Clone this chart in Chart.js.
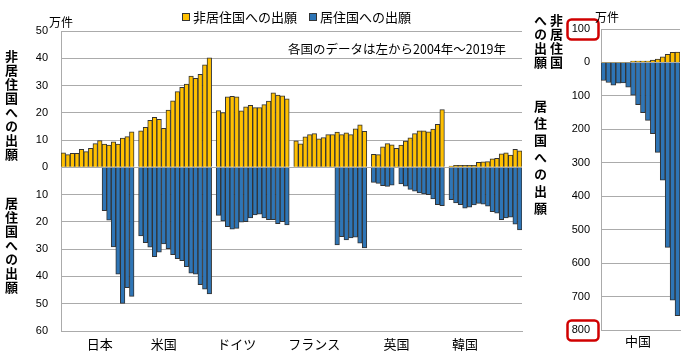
<!DOCTYPE html>
<html lang="ja">
<head>
<meta charset="utf-8">
<script src="https://cdn.jsdelivr.net/npm/chart.js@4.4.1/dist/chart.umd.min.js"></script>
<style>
  html, body { margin:0; padding:0; background:#fff; }
  body { width:700px; height:359px; position:relative; overflow:hidden; font-family:'Noto Sans CJK JP', sans-serif; color:#000; }
  #left { position:absolute; left:0; top:0; }
  #right { position:absolute; left:530px; top:0; }
  .t { position:absolute; white-space:nowrap; font-size:13px; line-height:1; }
  .v { position:absolute; writing-mode:vertical-rl; font-size:13px; font-weight:bold; line-height:1; letter-spacing:1px; }
  .sw { display:inline-block; width:6px; height:6px; border:1px solid #333; margin-right:3px; vertical-align:1px; }
</style>
</head>
<body>
<canvas id="left" width="535" height="359"></canvas>
<canvas id="right" width="170" height="359"></canvas>

<div class="t" style="left:182px; top:10px;"><span class="sw" style="background:#FFC000"></span>非居住国への出願</div>
<div class="t" style="left:309px; top:10px;"><span class="sw" style="background:#2E75B6"></span>居住国への出願</div>
<div class="t" style="left:288px; top:43px; font-size:12.5px;">各国のデータは左から2004年～2019年</div>
<div class="t" style="left:49px; top:16px; font-size:12px;">万件</div>
<div class="t" style="left:595px; top:11px; font-size:12px;">万件</div>
<div class="v" style="left:5px; top:50px;">非居住国への出願</div>
<div class="v" style="left:5px; top:197px;">居住国への出願</div>
<div class="v" style="left:550px; top:14px; letter-spacing:1px;">非居住国</div>
<div class="v" style="left:534px; top:14px; letter-spacing:1px;">への出願</div>
<div class="v" style="left:534px; top:100px; letter-spacing:4px;">居住国への出願</div>

<script>
// ---- data (万件) ----
const years = ['2004','2005','2006','2007','2008','2009','2010','2011','2012','2013','2014','2015','2016','2017','2018','2019'];
const countries = ['日本','米国','ドイツ','フランス','英国','韓国'];

const japanNonRes   = [5.3,4.7,5.1,5.1,6.6,5.8,7.0,8.7,9.8,8.5,8.2,9.4,8.5,10.7,11.3,13.0];
const japanRes      = [null,null,null,null,null,null,null,null,null,15.9,19.4,29.2,39.2,49.9,44.1,47.3];
const usNonRes      = [13.4,14.7,17.2,18.3,17.6,14.3,21.0,24.4,27.8,29.3,30.5,33.5,32.6,34.1,37.6,40.2];
const usRes         = [25.1,27.6,29.3,32.7,31.1,28.1,29.8,32.0,33.5,34.2,36.4,38.8,39.2,43.0,44.7,46.4];
const germanyNonRes = [20.8,20.1,25.9,26.0,25.9,20.7,22.2,22.7,21.9,21.9,23.0,24.3,27.3,26.5,26.2,25.1];
const germanyRes    = [17.6,19.6,21.7,22.7,22.4,20.1,19.9,18.5,17.4,17.2,18.5,19.2,19.2,20.6,19.9,21.1];
const franceNonRes  = [9.7,8.6,11.2,12.0,12.4,10.5,10.9,12.0,12.0,12.9,12.0,12.7,12.0,14.1,15.6,13.2];
const franceRes     = [null,null,null,null,null,null,null,null,null,28.4,25.4,26.6,25.9,25.6,27.8,29.5];
const ukNonRes      = [4.8,4.7,7.5,8.7,8.3,7.0,8.2,9.6,10.8,12.4,13.4,13.4,13.0,14.0,15.8,21.2];
const ukRes         = [5.5,5.9,6.7,7.0,6.5,null,6.1,6.9,8.1,8.7,9.4,9.7,10.0,11.6,13.7,14.0];
const koreaNonRes   = [0.5,0.7,0.7,0.7,0.7,0.7,1.8,2.0,2.1,3.1,3.3,5.0,5.3,4.5,6.6,6.1];
const koreaRes      = [11.8,13.0,13.7,15.0,14.6,13.8,13.2,13.5,14.2,16.2,16.8,19.2,18.5,18.3,20.8,22.9];

const chinaNonRes   = [0.5,0.5,0.5,0.5,0.5,1,4,4,4,4,7,10,17,24,30,31];
const chinaRes      = [54,60,68,62,61,74,98,126,150,173,213,269,352,553,711,757];

const leftTicks  = [50,40,30,20,10,0,-10,-20,-30,-40,-50,-60];
const rightTicks = [100,0,-100,-200,-300,-400,-500,-600,-700,-800];

// ---- styling/layout constants ----
const YELLOW = '#FFC000', BLUE = '#2E75B6', EDGE = '#333333', GRID = '#ababab';
const NUM_FONT = "'Liberation Sans', Arial, sans-serif";
const JP_FONT = "'Noto Sans CJK JP', sans-serif";
const labelSlotInGroup = [8, 5, 4, 4, 5, 3]; // where each country name sits in its group

const nonResByCountry = [japanNonRes, usNonRes, germanyNonRes, franceNonRes, ukNonRes, koreaNonRes];
const resByCountry    = [japanRes, usRes, germanyRes, franceRes, ukRes, koreaRes];

const labels = [], nonResData = [], resData = [], tickText = {};
countries.forEach((c, k) => {
  const start = labels.length;
  tickText[start + labelSlotInGroup[k]] = c;
  years.forEach((y, i) => {
    labels.push(c + ' ' + y);
    nonResData.push(nonResByCountry[k][i]);
    const r = resByCountry[k][i];
    resData.push(r == null ? null : -r);
  });
  if (k < countries.length - 1) { labels.push(''); nonResData.push(null); resData.push(null); }
});

Chart.defaults.animation = false;
Chart.defaults.font.family = NUM_FONT;
Chart.defaults.color = '#000';

const barDs = (label, data, color) => ({
  label, data, backgroundColor: color, borderColor: EDGE, borderWidth: 1,
  barPercentage: 1, categoryPercentage: 1, stack: 's'
});

new Chart(document.getElementById('left'), {
  type: 'bar',
  data: { labels, datasets: [ barDs('非居住国への出願', nonResData, YELLOW), barDs('居住国への出願', resData, BLUE) ] },
  options: {
    responsive: false,
    layout: { padding: { top: 31, left: 0, right: 13, bottom: 0 } },
    plugins: { legend: { display: false }, tooltip: { enabled: false } },
    scales: {
      x: {
        stacked: true,
        grid: { display: false, drawTicks: false },
        border: { display: true, color: GRID },
        ticks: { autoSkip: false, maxRotation: 0, minRotation: 0, padding: 5,
          font: { family: JP_FONT, size: 13 },
          callback: (v, i) => tickText[i] || '' },
        afterFit: s => { s.height = 28; }
      },
      y: {
        stacked: true, min: -60, max: 50,
        afterBuildTicks: s => { s.ticks = leftTicks.map(v => ({ value: v })); },
        grid: { color: GRID, drawTicks: false },
        border: { display: true, color: GRID },
        ticks: { padding: 13, font: { size: 11 }, callback: v => Math.abs(v) },
        afterFit: s => { s.width = 61; }
      }
    }
  }
});

const redBoxes = {
  id: 'redBoxes',
  afterDraw(chart) {
    const y = chart.scales.y, ctx = chart.ctx;
    ctx.save();
    ctx.strokeStyle = '#D00000';
    ctx.lineWidth = 2.5;
    [rightTicks[0], rightTicks[rightTicks.length - 1]].forEach(v => {
      const py = y.getPixelForValue(v);
      ctx.beginPath();
      ctx.roundRect(37.5, py - 9.5, 31, 20, 4);
      ctx.stroke();
    });
    ctx.restore();
  }
};

new Chart(document.getElementById('right'), {
  type: 'bar',
  data: { labels: years, datasets: [
    barDs('非居住国への出願', chinaNonRes, YELLOW),
    barDs('居住国への出願', chinaRes.map(v => -v), BLUE)
  ] },
  options: {
    responsive: false,
    layout: { padding: { top: 29, left: 0, right: 20, bottom: 0 } },
    plugins: { legend: { display: false }, tooltip: { enabled: false } },
    scales: {
      x: {
        stacked: true,
        grid: { display: false, drawTicks: false },
        border: { display: true, color: GRID },
        ticks: { autoSkip: false, maxRotation: 0, minRotation: 0, padding: 3,
          font: { family: JP_FONT, size: 13 },
          callback: (v, i) => i === 7 ? '中国' : '' },
        afterFit: s => { s.height = 29; }
      },
      y: {
        stacked: true, min: -800, max: 100,
        afterBuildTicks: s => { s.ticks = rightTicks.map(v => ({ value: v })); },
        grid: { color: GRID, drawTicks: false },
        border: { display: true, color: GRID },
        ticks: { padding: 11, font: { size: 11 }, callback: v => Math.abs(v) },
        afterFit: s => { s.width = 71; }
      }
    }
  },
  plugins: [redBoxes]
});
</script>
</body>
</html>
